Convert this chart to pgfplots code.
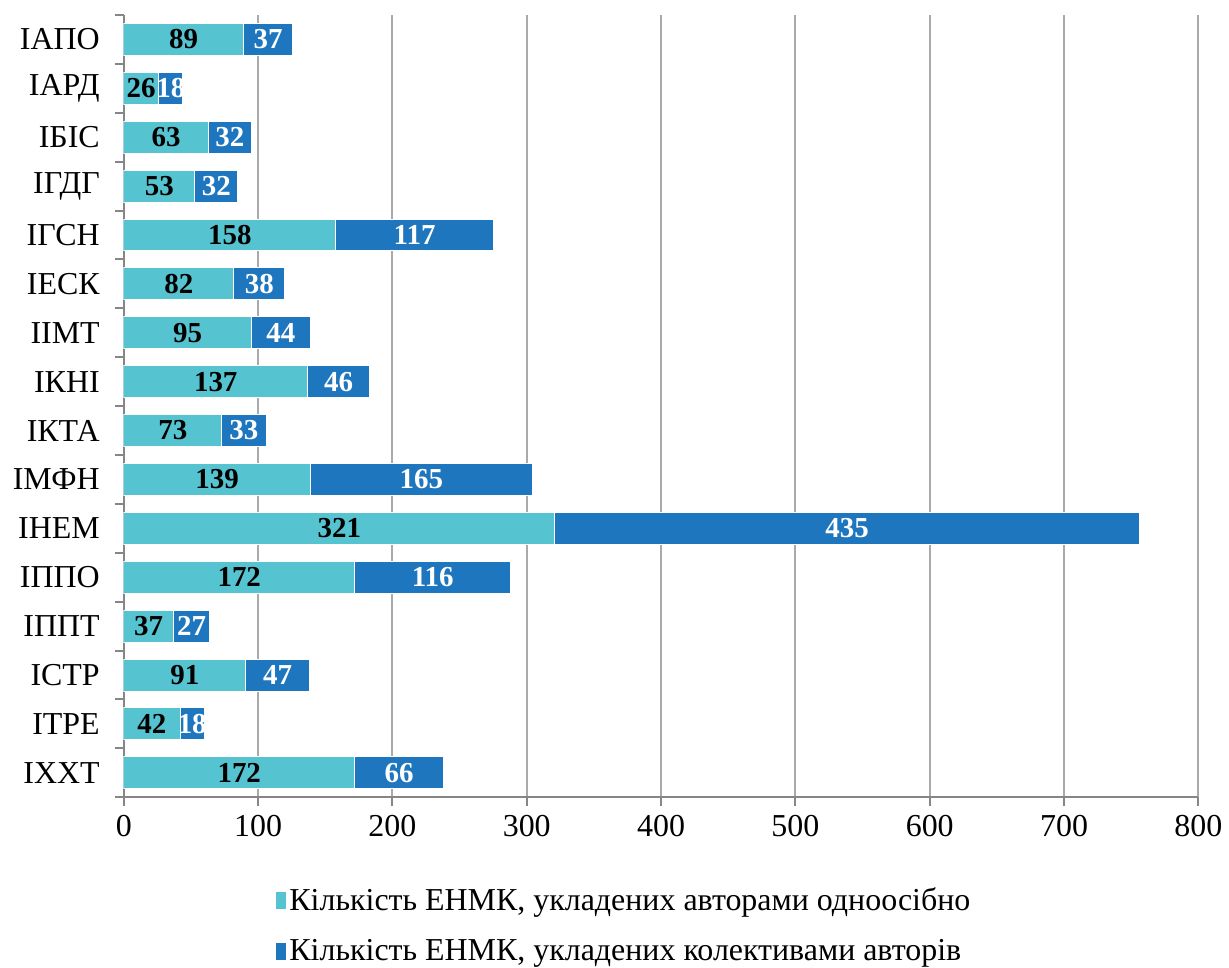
\documentclass[border=0pt]{standalone}
\usepackage{fontspec}
\setmainfont{Liberation Serif}
\usepackage{pgfplots}
\usepackage{pgfplotstable}
\pgfplotsset{compat=1.18}

\definecolor{single}{RGB}{86,195,208}
\definecolor{team}{RGB}{30,118,190}
\definecolor{gridgray}{RGB}{170,170,170}
\definecolor{axisgray}{RGB}{134,134,134}

% idx 0 = bottom row (ІХХТ), 15 = top row (ІАПО)
% a = одноосібно, b = колективами
\pgfplotstableread{
idx a b
15 89 37
14 26 18
13 63 32
12 53 32
11 158 117
10 82 38
9 95 44
8 137 46
7 73 33
6 139 165
5 321 435
4 172 116
3 37 27
2 91 47
1 42 18
0 172 66
}\enmk

\begin{document}
\begin{tikzpicture}
\begin{axis}[
  scale only axis,
  width=538.5pt, height=392pt,
  xmin=0, xmax=800,
  ymin=-0.5, ymax=15.5,
  xtick={0,100,...,800},
  ytick={0,...,15},
  yticklabels={ІХХТ,ІТРЕ,ІСТР,ІППТ,ІППО,ІНЕМ,ІМФН,ІКТА,ІКНІ,ІІМТ,ІЕСК,ІГСН,ІГДГ,ІБІС,ІАРД,ІАПО},
  minor ytick={-0.5,0.5,...,15.5},
  axis x line*=bottom, axis y line*=left,
  axis line style={draw=axisgray, line width=1pt},
  xmajorgrids,
  grid style={draw=gridgray, line width=1pt},
  tick align=outside,
  major tick length=4.5pt, minor tick length=4.5pt,
  tick style={draw=axisgray, line width=1pt},
  major y tick style={draw=none},
  /pgf/number format/assume math mode=true,
  ticklabel style={font=\fontsize{16}{19}\selectfont},
  xticklabel style={yshift=-1pt},
  yticklabel style={xshift=-4pt},
  legend style={at={(0.141,-0.11)}, anchor=north west, draw=none, fill=none,
    inner sep=0pt, font=\fontsize{16}{19}\selectfont, row sep=9pt},
  legend cell align=left,
]
\addplot[xbar, bar width=16pt, bar shift=0pt, fill=team, draw=white, line width=0.5pt, forget plot]
  table[x expr=\thisrow{a}+\thisrow{b}, y=idx]{\enmk};
\addplot[xbar, bar width=16pt, bar shift=0pt, fill=single, draw=white, line width=0.5pt, forget plot]
  table[x=a, y=idx]{\enmk};

\addplot[draw=none, mark=none, forget plot, nodes near coords, point meta=explicit,
  nodes near coords style={anchor=center, text=black, font=\bfseries\fontsize{14.5}{16}\selectfont}]
  table[x expr=\thisrow{a}/2, y=idx, meta=a]{\enmk};
\addplot[draw=none, mark=none, forget plot, nodes near coords, point meta=explicit,
  nodes near coords style={anchor=center, text=white, font=\bfseries\fontsize{14.5}{16}\selectfont}]
  table[x expr=\thisrow{a}+\thisrow{b}/2, y=idx, meta=b]{\enmk};

\addlegendimage{legend image code/.code={\fill[single] (0pt,-4pt) rectangle (4.5pt,4pt);}}
\addlegendentry{Кількість ЕНМК, укладених авторами одноосібно}
\addlegendimage{legend image code/.code={\fill[team] (0pt,-4pt) rectangle (4.5pt,4pt);}}
\addlegendentry{Кількість ЕНМК, укладених колективами авторів}
\end{axis}
\path ([shift={(-62pt,-84pt)}]current axis.south west) rectangle ([shift={(14pt,7.5pt)}]current axis.north east);
\end{tikzpicture}
\end{document}
